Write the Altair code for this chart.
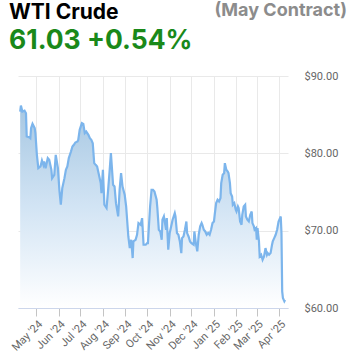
import altair as alt
import pandas as pd

dates = [
    "2024-04-09", "2024-04-10", "2024-04-12", "2024-04-15", "2024-04-17", "2024-04-18", "2024-04-22", "2024-04-23",
    "2024-04-24", "2024-04-26", "2024-04-29", "2024-04-30", "2024-05-02", "2024-05-04", "2024-05-07", "2024-05-09",
    "2024-05-11", "2024-05-12", "2024-05-14", "2024-05-17", "2024-05-19", "2024-05-22", "2024-05-23", "2024-05-26",
    "2024-05-28", "2024-05-31", "2024-06-02", "2024-06-04", "2024-06-06", "2024-06-09", "2024-06-11", "2024-06-13",
    "2024-06-15", "2024-06-18", "2024-06-20", "2024-06-22", "2024-06-24", "2024-06-27", "2024-06-28", "2024-06-30",
    "2024-07-03", "2024-07-05", "2024-07-07", "2024-07-09", "2024-07-12", "2024-07-14", "2024-07-16", "2024-07-18",
    "2024-07-20", "2024-07-22", "2024-07-24", "2024-07-27", "2024-07-29", "2024-07-30", "2024-08-01", "2024-08-03",
    "2024-08-06", "2024-08-08", "2024-08-10", "2024-08-12", "2024-08-15", "2024-08-17", "2024-08-19", "2024-08-22",
    "2024-08-24", "2024-08-26", "2024-08-28", "2024-08-31", "2024-09-02", "2024-09-05", "2024-09-07", "2024-09-09",
    "2024-09-11", "2024-09-12", "2024-09-15", "2024-09-17", "2024-09-19", "2024-09-22", "2024-09-24", "2024-09-26",
    "2024-09-29", "2024-10-01", "2024-10-02", "2024-10-05", "2024-10-07", "2024-10-09", "2024-10-11", "2024-10-14",
    "2024-10-15", "2024-10-17", "2024-10-19", "2024-10-21", "2024-10-22", "2024-10-24", "2024-10-27", "2024-10-28",
    "2024-10-30", "2024-11-01", "2024-11-03", "2024-11-05", "2024-11-08", "2024-11-09", "2024-11-11", "2024-11-13",
    "2024-11-15", "2024-11-17", "2024-11-18", "2024-11-20", "2024-11-22", "2024-11-24", "2024-11-25", "2024-11-27",
    "2024-11-29", "2024-12-01", "2024-12-04", "2024-12-05", "2024-12-07", "2024-12-09", "2024-12-11", "2024-12-13",
    "2024-12-15", "2024-12-16", "2024-12-18", "2024-12-20", "2024-12-22", "2024-12-24", "2024-12-26", "2024-12-28",
    "2024-12-30", "2025-01-01", "2025-01-02", "2025-01-04", "2025-01-06", "2025-01-08", "2025-01-10", "2025-01-11",
    "2025-01-13", "2025-01-15", "2025-01-16", "2025-01-18", "2025-01-20", "2025-01-21", "2025-01-23", "2025-01-24",
    "2025-01-26", "2025-01-27", "2025-01-29", "2025-01-31", "2025-02-01", "2025-02-03", "2025-02-04", "2025-02-06",
    "2025-02-08", "2025-02-09", "2025-02-11", "2025-02-13", "2025-02-14", "2025-02-16", "2025-02-18", "2025-02-20",
    "2025-02-22", "2025-02-23", "2025-02-25", "2025-02-26", "2025-02-28", "2025-03-01", "2025-03-02", "2025-03-04",
    "2025-03-05", "2025-03-07", "2025-03-09", "2025-03-11", "2025-03-13", "2025-03-15", "2025-03-16", "2025-03-18",
    "2025-03-20", "2025-03-22", "2025-03-23", "2025-03-25", "2025-03-27", "2025-03-29", "2025-03-31", "2025-04-02",
    "2025-04-03", "2025-04-04", "2025-04-05", "2025-04-06", "2025-04-08", "2025-04-09",
]

prices = [
    85.40, 86.18, 85.40, 85.53, 85.19, 82.17, 82.05, 81.96,
    83.25, 83.81, 83.25, 82.61, 79.81, 78.08, 78.30, 79.07,
    78.51, 78.94, 78.08, 79.38, 79.16, 77.87, 76.79, 77.22,
    79.81, 78.08, 75.28, 73.35, 75.50, 76.79, 77.87, 78.30,
    79.38, 80.24, 80.88, 81.10, 81.40, 81.53, 81.74, 83.04,
    83.90, 83.80, 82.61, 82.82, 82.39, 81.96, 81.74, 81.31,
    78.73, 78.51, 78.30, 77.01, 76.15, 74.85, 77.87, 73.35,
    72.92, 75.07, 77.44, 80.02, 75.93, 75.71, 73.56, 71.84,
    75.28, 77.44, 75.71, 74.64, 73.13, 69.25, 67.75, 68.82,
    66.46, 68.61, 68.82, 69.47, 70.98, 70.76, 71.62, 68.18,
    68.18, 68.39, 68.39, 73.13, 75.28, 75.28, 75.07, 73.99,
    72.92, 70.12, 69.90, 68.82, 71.41, 71.84, 70.12, 71.62,
    67.53, 69.69, 70.55, 71.41, 72.27, 71.84, 69.69, 69.47,
    68.61, 67.10, 69.04, 69.25, 70.12, 71.19, 69.69, 69.25,
    68.61, 68.39, 68.18, 69.90, 68.39, 67.32, 69.47, 70.55,
    70.98, 70.76, 70.12, 69.90, 69.47, 69.69, 69.47, 70.12,
    70.98, 71.19, 72.05, 73.56, 73.99, 73.78, 74.21, 76.15,
    77.22, 77.44, 78.73, 77.87, 77.65, 77.44, 76.15, 74.85,
    74.42, 73.35, 73.56, 72.70, 72.48, 73.13, 72.92, 71.19,
    70.76, 72.05, 73.13, 73.35, 71.84, 71.41, 71.19, 72.05,
    72.48, 70.98, 70.55, 70.12, 70.33, 68.82, 70.33, 68.61,
    66.67, 66.89, 66.24, 66.67, 67.75, 66.89, 67.10, 66.89,
    67.10, 68.18, 68.61, 69.04, 69.47, 70.12, 71.19, 71.62,
    71.84, 69.69, 62.15, 61.29, 60.86, 61.03,
]

title_text = ["WTI Crude"]
quote_text = ["61.03 +0.54%"]
contract_text = ["(May Contract)"]
y_ticks = [60, 70, 80, 90]

df = pd.DataFrame({"date": dates, "price": prices})

x_enc = alt.X(
    "date:T",
    scale=alt.Scale(
        type="utc",
        domain=[alt.DateTime(year=2024, month=4, date=6, utc=True),
                alt.DateTime(year=2025, month=4, date=13, utc=True)],
    ),
    axis=alt.Axis(
        title=None,
        labelExpr="utcFormat(datum.value, \"%b '%y\")",
        tickCount={"interval": "month", "step": 1},
        labelAngle=-45, labelFontSize=11, labelColor="#666666", labelFont="Roboto",
        labelPadding=2, tickSize=8, tickColor="#c4c4c4", domainColor="#ccd6eb",
        gridColor="#e9e9e9", labelOverlap=False, labelFlush=False,
    ),
)
y_enc = alt.Y(
    "price:Q",
    scale=alt.Scale(domain=[60, 90], zero=False, nice=False),
    axis=alt.Axis(
        title=None, orient="right", values=y_ticks, format="$.2f",
        labelFontSize=11, labelColor="#666666", labelFont="Roboto",
        labelPadding=16, ticks=False, domain=False, gridColor="#e9e9e9",
    ),
)

gradient = alt.Gradient(
    gradient="linear",
    stops=[
        alt.GradientStop(color="#ffffff", offset=0),
        alt.GradientStop(color="#d2e4f4", offset=0.5),
        alt.GradientStop(color="#a6c7e2", offset=1),
    ],
    x1=1, x2=1, y1=1, y2=0,
)

area = alt.Chart(df).mark_area(color=gradient, clip=True).encode(
    x=x_enc, y=y_enc, y2=alt.datum(60)
)
line = alt.Chart(df).mark_line(color="#7cb5ec", strokeWidth=2.2, clip=True).encode(
    x=x_enc, y=y_enc
)

t1 = alt.Chart(pd.DataFrame({"t": title_text})).mark_text(
    align="left", baseline="alphabetic", font="Inter", fontSize=21,
    fontWeight="bold", color="#000000"
).encode(text="t:N", x=alt.value(-9), y=alt.value(-57))
t2 = alt.Chart(pd.DataFrame({"t": quote_text})).mark_text(
    align="left", baseline="alphabetic", font="Inter", fontSize=26.5,
    fontWeight="bold", color="#1a891a"
).encode(text="t:N", x=alt.value(-9), y=alt.value(-26.7))
t3 = alt.Chart(pd.DataFrame({"t": contract_text})).mark_text(
    align="right", baseline="alphabetic", font="Inter", fontSize=18,
    fontWeight="bold", color="#8c8c8c"
).encode(text="t:N", x=alt.value(329), y=alt.value(-60))

chart = alt.layer(area, line, t1, t2, t3).properties(
    width=270, height=232,
    autosize=alt.AutoSizeParams(type="none"),
    padding={"left": 18, "top": 76, "right": 62, "bottom": 44},
    background="#ffffff",
).configure_view(strokeWidth=0)

chart.save("out.html", embed_options={"renderer": "svg", "actions": False})
